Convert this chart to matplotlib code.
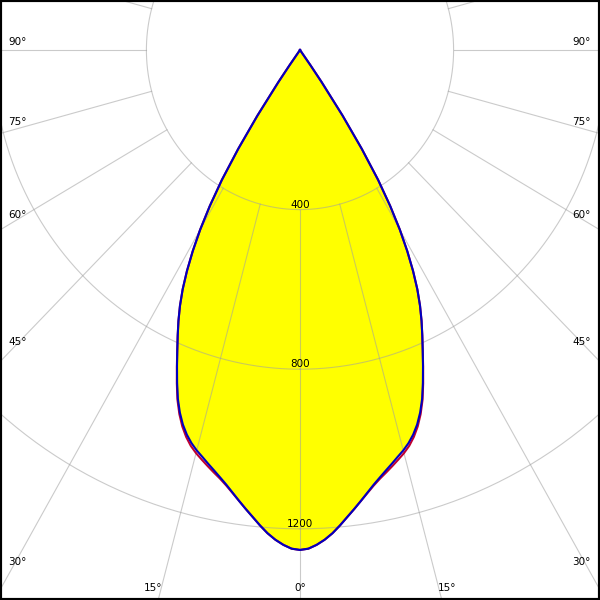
import numpy as np
import matplotlib
matplotlib.use("Agg")
import matplotlib.pyplot as plt

# luminous intensity (cd) vs angle from nadir (deg), symmetric curve
angles = [0, 1, 2, 3, 4, 5, 6, 7, 8, 9, 10, 11, 12, 13, 14, 15, 16, 17, 18,
          19, 20, 21, 22, 23, 24, 25, 26, 27, 28, 29, 30, 31, 32, 33, 34, 35,
          35.5, 36]
c90_cd = [1253, 1250, 1241, 1229, 1214, 1196, 1177, 1159, 1141, 1123, 1106,
          1091, 1077, 1064, 1051, 1039, 1025, 1008, 987, 961, 930, 893, 855,
          818, 783, 749, 713, 673, 627, 576, 520, 456, 384, 295, 198, 98, 47, 0]
c0_cd = [1253, 1250, 1241, 1229, 1214, 1196, 1177, 1159, 1141, 1124, 1108,
         1094, 1082, 1070, 1058, 1046, 1032, 1014, 992, 965, 933, 895, 856,
         818, 783, 749, 713, 673, 627, 576, 520, 456, 384, 295, 198, 98, 47, 0]

ring_values = [400, 800, 1200, 1600]
ring_labels = ["400", "800", "1200"]
spoke_angles = list(range(0, 360, 15))
side_labels = [90, 75, 60, 45, 30]
bottom_labels = [15, 0]

# pixel scale of the original diagram
px_x = 0.384
px_y = 0.399
cx, cy = 300, 50


def to_xy(theta_deg, r):
    t = np.radians(theta_deg)
    return np.asarray(r) * np.sin(t), -np.asarray(r) * np.cos(t)


def mirror(a, v):
    a = np.asarray(a, float)
    v = np.asarray(v, float)
    th = np.concatenate([-a[::-1], a[1:]])
    rr = np.concatenate([v[::-1], v[1:]])
    return th, rr


fig = plt.figure(figsize=(6, 6), dpi=100)
ax = fig.add_axes([0, 0, 1, 1])
ax.set_xlim(-cx / px_x, (600 - cx) / px_x)
ax.set_ylim(-(600 - cy) / px_y, cy / px_y)
ax.set_xticks([])
ax.set_yticks([])
for s in ax.spines.values():
    s.set_linewidth(3)
    s.set_color("black")

# filled distribution
th, rr = mirror(angles, c90_cd)
x, y = to_xy(th, rr)
ax.fill(x, y, color="#ffff00", zorder=1, lw=0)

# grid
grid_kw = dict(color="#a0a0a0", alpha=0.55, lw=0.8, zorder=2)
circ = np.linspace(0, 360, 721)
for r in ring_values:
    gx, gy = to_xy(circ, np.full_like(circ, r))
    ax.plot(gx, gy, **grid_kw)
for a in spoke_angles:
    gx, gy = to_xy(np.array([a, a]), np.array([400, 2200]))
    ax.plot(gx, gy, **grid_kw)

# curves
th2, rr2 = mirror(angles, c0_cd)
x2, y2 = to_xy(th2, rr2)
ax.plot(x2, y2, color="#c00030", lw=1.5, zorder=3, solid_joinstyle="round")
ax.plot(x, y, color="#0000c0", lw=1.5, zorder=4, solid_joinstyle="round")

# ring labels
for r, lab in zip(ring_values, ring_labels):
    ax.annotate(lab, (0, -r), xytext=(0, 5), textcoords="offset pixels",
                ha="center", va="center", fontsize=7.5, zorder=5)

# angle labels around the border
H = 600
for a in side_labels:
    ypix = cy + 300 / np.tan(np.radians(a)) - 8
    fig.text(8 / 600, (H - ypix) / H, f"{a}°", ha="left", va="center",
             fontsize=7.5)
    fig.text(591 / 600, (H - ypix) / H, f"{a}°", ha="right", va="center",
             fontsize=7.5)
for a in bottom_labels:
    dx = (H - cy) * np.tan(np.radians(a))
    for sgn in ([-1, 1] if a else [0]):
        fig.text((cx + sgn * dx) / 600, (H - 588) / H, f"{a}°",
                 ha="center", va="center", fontsize=7.5)

fig.savefig("out.png", dpi=100)
